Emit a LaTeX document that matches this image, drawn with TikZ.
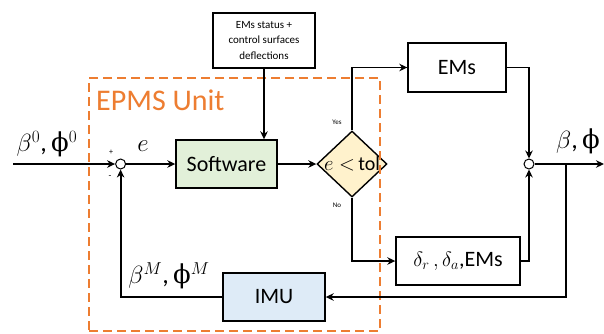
\documentclass[tikz,border=0pt]{standalone}
\usepackage{fontspec}
\setmainfont{Carlito}
\newfontfamily\grkfont{DejaVu Serif}
\usetikzlibrary{shapes.geometric, arrows.meta}

\definecolor{epmsorange}{HTML}{ED7D31}
\definecolor{softgreen}{HTML}{E2F0D9}
\definecolor{imublue}{HTML}{DEEBF7}
\definecolor{tolyellow}{HTML}{FFF2CC}

\newcommand{\uphi}{{\grkfont ϕ}}

\begin{document}
\begin{tikzpicture}[x=1pt, y=-1pt, >={Stealth[length=8pt, width=7.5pt]}, inner sep=0pt,
  blk/.style={draw, line width=1.4pt, minimum height=48pt},
  sumpt/.style={circle, draw, line width=1pt, fill=white, minimum size=10pt},
  wire/.style={->, line width=1.9pt},
  big/.style={font=\fontsize{22}{26}\selectfont},
  maths/.style={font=\fontsize{26}{30}\selectfont},
  tiny/.style={font=\fontsize{7}{8}\selectfont}]
\useasboundingbox (0,0) rectangle (604,333);
\coordinate (in) at (13,164);
\coordinate (split) at (566,164);
\coordinate (out) at (604,164);
\node (sum1) at (120.6,164) [sumpt] {};
\node (sum2) at (529,164) [sumpt] {};
\node (soft) at (226.5,164) [blk, fill=softgreen, minimum width=101pt, big] {Software};
\node (info) at (264,40.5) [blk, minimum width=102pt, minimum height=55pt, align=center,
  font=\fontsize{11}{15.5}\selectfont] {EMs status +\\control surfaces\\deflections};
\node (dec) at (352,164) [diamond, draw, line width=1.4pt, fill=tolyellow,
  minimum width=70pt, minimum height=66pt] {};
\node (tol) at (dec) [font=\fontsize{20}{24}\selectfont] {$e<$\,tol};
\node (ems) at (457,67.5) [blk, minimum width=98pt, minimum height=49pt, big] {EMs};
\node (act) at (458,261) [blk, minimum width=124pt, big] {$\delta_r\,,\delta_a$,EMs};
\node (imu) at (274,297) [blk, fill=imublue, minimum width=102pt, big] {IMU};
\node (unit) at (234.5,204.5) [draw=epmsorange, line width=2.6pt, dash pattern=on 9pt off 5pt,
  minimum width=291pt, minimum height=253pt] {};
\node (unitlbl) at (96,100) [anchor=west, text=epmsorange, font=\fontsize{30}{34}\selectfont] {EPMS Unit};
\node (plus) at (111,152) [font=\fontsize{8}{9}\selectfont] {+};
\node (minus) at (110,177) [font=\fontsize{9}{9}\selectfont] {-};
\node (ref) at (47,144) [maths] {$\beta^0$,\,\uphi$^0$};
\node (err) at (143,146) [maths] {$e$};
\node (meas) at (169,276) [maths] {$\beta^M$,\,\uphi$^M$};
\node (att) at (578,141) [maths] {$\beta$,\,\uphi};
\node (yes) at (337,122) [tiny] {Yes};
\node (no) at (337,205) [tiny] {No};
\draw[wire] (in) -- (sum1);
\draw[wire] (sum1) -- (soft);
\draw[wire] (info) -- (info |- soft.north);
\draw[wire] (soft) -- (dec);
\draw[wire] (dec.north) |- (ems);
\draw[wire] (dec.south) |- (act);
\draw[wire] (ems) -| (sum2);
\draw[wire] (act) -| (sum2);
\draw[wire] (sum2) -- (out);
\draw[wire] (split) |- (imu);
\draw[wire] (imu) -| (sum1);
\end{tikzpicture}
\end{document}
